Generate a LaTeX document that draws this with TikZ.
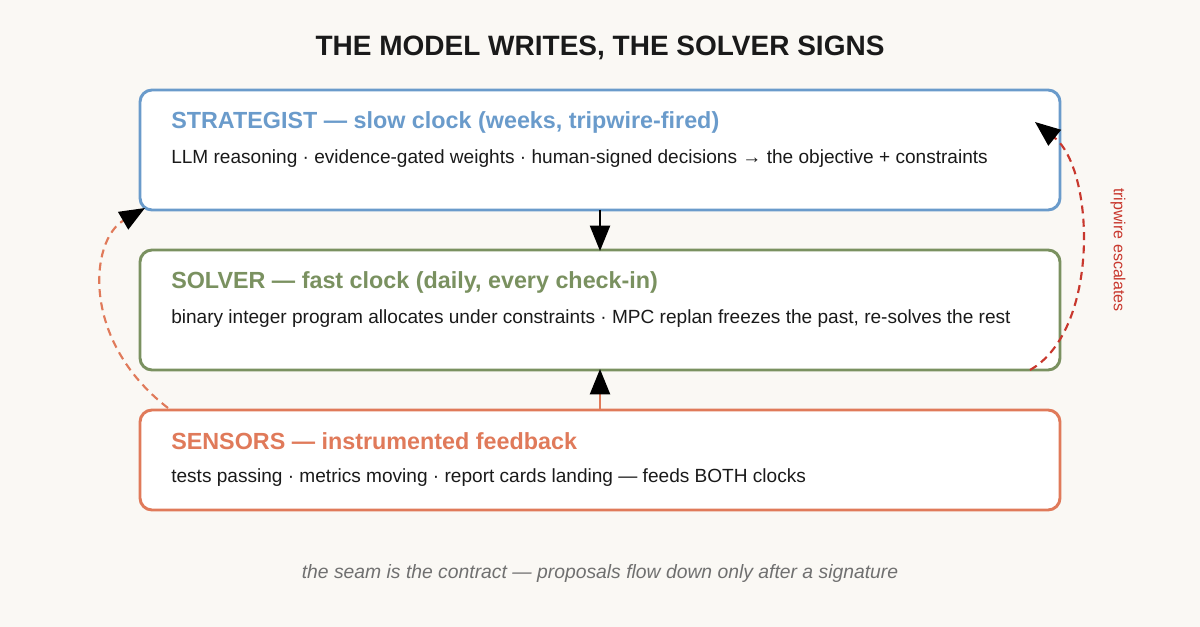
\documentclass[tikz,border=0pt]{standalone}
\usepackage{fontspec}
\setmainfont{Liberation Sans}
\usetikzlibrary{arrows.meta}
\definecolor{bg}{HTML}{FAF8F4}
\definecolor{cblue}{HTML}{6A9BCB}
\definecolor{cgreen}{HTML}{7A9160}
\definecolor{corange}{HTML}{E07A5A}
\definecolor{cred}{HTML}{C8372D}
\definecolor{cgray}{HTML}{707070}
\definecolor{ctext}{HTML}{1A1A1A}
\begin{document}
\begin{tikzpicture}[x=0.75pt,y=-0.75pt,
  box/.style={line width=2.2pt,rounded corners=9pt,fill=white},
  ttl/.style={anchor=west,inner sep=0pt,font=\fontsize{17.5}{19}\selectfont\bfseries},
  body/.style={anchor=west,inner sep=0pt,font=\fontsize{14.3}{16}\selectfont,text=ctext},
  hd/.style={-{Triangle[length=19pt,width=15pt,fill=black,color=black]},line width=1.6pt}]
\fill[bg] (0,0) rectangle (1200,627);
\useasboundingbox (0,0) rectangle (1200,627);
\node[font=\fontsize{21}{24}\selectfont\bfseries,text=ctext] (title) at (600,48) {THE MODEL WRITES, THE SOLVER SIGNS};
\draw[box,draw=cblue] (140,90) rectangle (1060,210);
\node[ttl,text=cblue] (t1) at (171,122) {STRATEGIST — slow clock (weeks, tripwire-fired)};
\node[body] (b1) at (171,159) {LLM reasoning · evidence-gated weights · human-signed decisions → the objective + constraints};
\draw[box,draw=cgreen] (140,250) rectangle (1060,370);
\node[ttl,text=cgreen] (t2) at (171,282) {SOLVER — fast clock (daily, every check-in)};
\node[body] (b2) at (171,319) {binary integer program allocates under constraints · MPC replan freezes the past, re-solves the rest};
\draw[box,draw=corange] (140,410) rectangle (1060,510);
\node[ttl,text=corange] (t3) at (171,441) {SENSORS — instrumented feedback};
\node[body] (b3) at (171,478) {tests passing · metrics moving · report cards landing — feeds BOTH clocks};
\coordinate (a1) at (600,210); \coordinate (a2) at (600,251);
\draw[hd,black] (a1) -- (a2);
\coordinate (c1) at (600,410); \coordinate (c2) at (600,369);
\draw[hd,corange] (c1) -- (c2);
\coordinate (d1) at (168,408); \coordinate (d2) at (145,208);
\draw[hd,corange,dash pattern=on 6pt off 4pt] (d1) .. controls (80,340) and (90,240) .. (d2);
\coordinate (e1) at (1030,370); \coordinate (e2) at (1035,122);
\draw[hd,cred,dash pattern=on 6pt off 4pt] (e1) .. controls (1100,330) and (1095,170) .. (e2);
\node[rotate=-90,text=cred,font=\fontsize{12}{14}\selectfont] (lab) at (1118,250) {tripwire escalates};
\node[text=cgray,font=\fontsize{14.5}{17}\selectfont\itshape] (cap) at (600,573) {the seam is the contract — proposals flow down only after a signature};
\end{tikzpicture}
\end{document}
